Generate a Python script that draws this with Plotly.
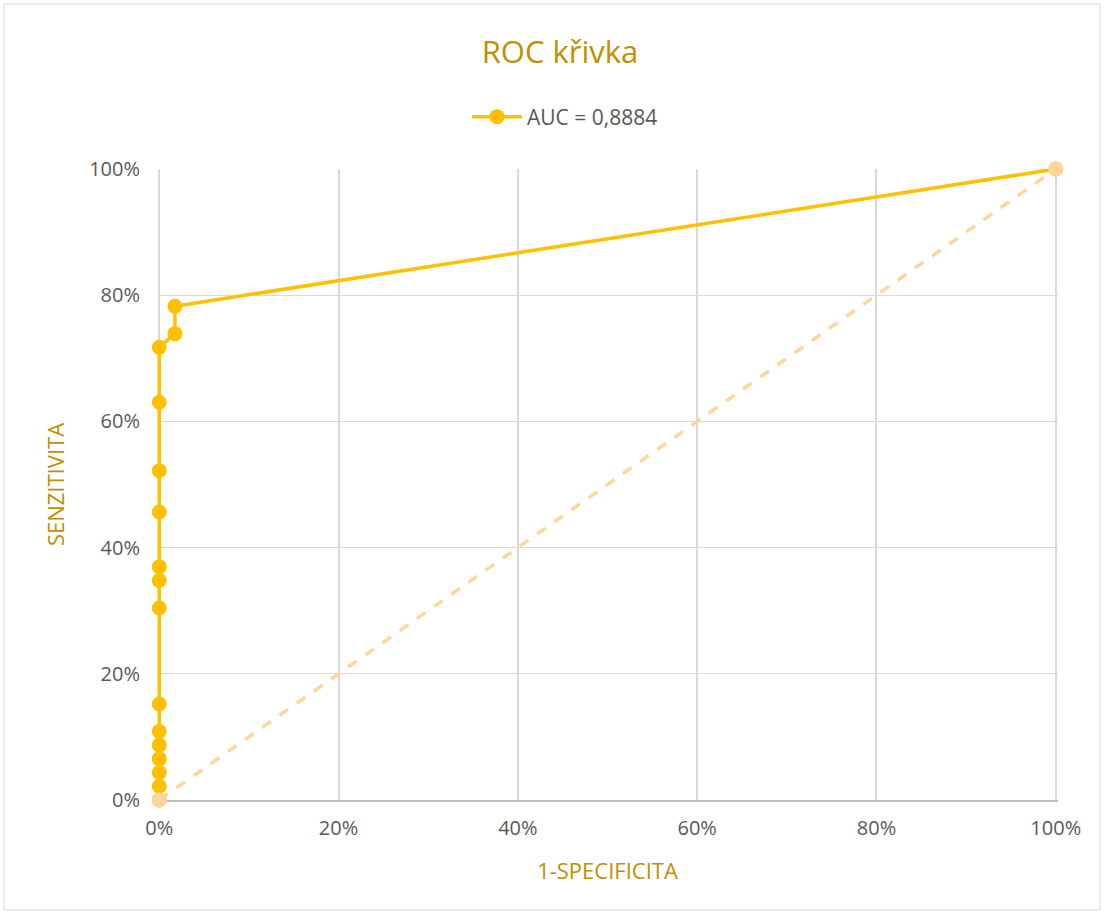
import plotly.graph_objects as go

# ROC data (1-specificity, sensitivity)
fpr = [0, 0, 0, 0, 0, 0, 0, 0, 0, 0, 0, 0, 0, 0, 0.0175, 0.0175, 1.0]
tpr = [0, 0.0217, 0.0435, 0.0652, 0.0870, 0.1087, 0.1522, 0.3043, 0.3478,
       0.3696, 0.4565, 0.5217, 0.6304, 0.7174, 0.7391, 0.7826, 1.0]
diag_x = [0, 1]
diag_y = [0, 1]
series_name = "AUC = 0,8884"
tick_vals = [0, 0.2, 0.4, 0.6, 0.8, 1.0]
tick_text = ["0%", "20%", "40%", "60%", "80%", "100%"]

FONT = "Open Sans, Liberation Sans, sans-serif"
GOLD = "#BF9000"

fig = go.Figure()
fig.add_trace(go.Scatter(
    x=fpr, y=tpr, mode="lines+markers", name=series_name,
    line=dict(color="#FFC000", width=3.5),
    marker=dict(color="#FFC000", size=15),
    cliponaxis=False,
))
fig.add_trace(go.Scatter(
    x=diag_x, y=diag_y, mode="lines+markers", showlegend=False,
    line=dict(color="#FFD699", width=3.5, dash="dash"),
    marker=dict(color="#FFD699", size=15),
    cliponaxis=False,
))

# small padding of the x range so the line at x=0 is not half clipped
PAD = 0.0025
W, H = 1105, 914
L, R, T, B = 157, 47, 169, 114
pw, ph = W - L - R, H - T - B

def px_x(p):
    return (p - L) / pw

def px_y(p):
    return (H - B - p) / ph

fig.add_shape(type="rect", xref="paper", yref="paper",
              x0=px_x(4), x1=px_x(1100), y0=px_y(910), y1=px_y(4),
              line=dict(color="#D9D9D9", width=1), fillcolor="rgba(0,0,0,0)",
              layer="below")

fig.update_layout(
    width=W, height=H,
    margin=dict(l=L, r=R, t=T, b=B),
    paper_bgcolor="white", plot_bgcolor="white",
    title=dict(text="ROC křivka", x=560 / W, xanchor="center",
               y=1 - 52 / H, yanchor="middle",
               font=dict(family=FONT, size=31, color=GOLD)),
    legend=dict(orientation="h", x=565 / W, xref="container",
                xanchor="center", y=1 - 117 / H, yref="container",
                yanchor="middle",
                font=dict(family=FONT, size=21, color="#595959"),
                itemwidth=50),
    xaxis=dict(range=[-PAD, 1 + PAD], tickvals=tick_vals, ticktext=tick_text,
               showgrid=True, gridcolor="#D9D9D9", gridwidth=1.5,
               showline=True, linecolor="#BFBFBF", linewidth=1.5,
               zeroline=False, ticks="", layer="below traces",
               ticklabelstandoff=9,
               tickfont=dict(family=FONT, size=20, color="#595959"),
               title=dict(text="1-SPECIFICITA", standoff=24,
                          font=dict(family=FONT, size=22, color=GOLD))),
    yaxis=dict(range=[0, 1], tickvals=tick_vals, ticktext=tick_text,
               showgrid=True, gridcolor="#D9D9D9", gridwidth=1,
               showline=False,
               zeroline=False, ticks="", ticklabelstandoff=16,
               layer="below traces",
               tickfont=dict(family=FONT, size=20, color="#595959"),
               title=dict(text="SENZITIVITA", standoff=18,
                          font=dict(family=FONT, size=22, color=GOLD))),
)

fig.write_html("out.html")
